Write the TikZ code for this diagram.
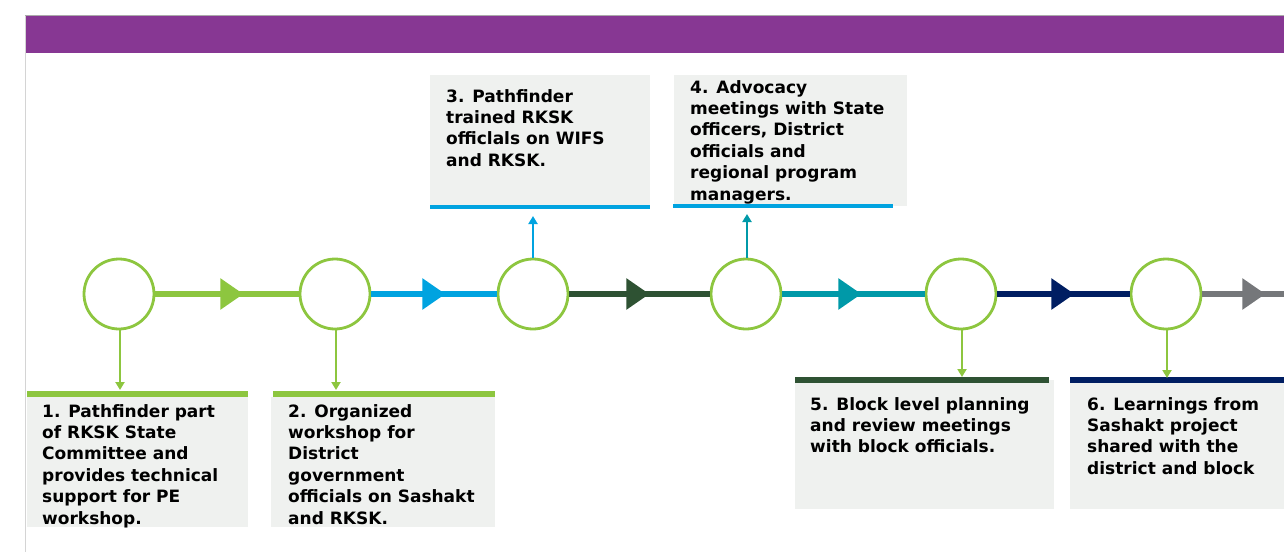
\documentclass[tikz,border=0pt]{standalone}
\usepackage{fontspec}
\setmainfont{DejaVu Sans}
\usetikzlibrary{arrows.meta,decorations.markings}

\definecolor{hdrpurple}{HTML}{873793}
\definecolor{lime}{HTML}{8DC63F}
\definecolor{skyblue}{HTML}{00A3E0}
\definecolor{forest}{HTML}{2E5233}
\definecolor{teal}{HTML}{0099A8}
\definecolor{navy}{HTML}{001E62}
\definecolor{slate}{HTML}{75777A}
\definecolor{boxfill}{HTML}{EFF1EF}
\definecolor{rulegrey}{HTML}{D4D4D4}

\tikzset{
  milestone/.style={circle, draw=lime, line width=2.8pt, fill=white,
    minimum size=70pt, inner sep=0pt},
  card/.style={fill=boxfill, draw=none},
  cardtext/.style={anchor=north west, inner sep=0pt, align=left,
    font=\fontsize{17}{21.4}\selectfont\bfseries},
  link/.style={line width=5.5pt},
  headtip/.style 2 args={postaction={decorate}, decoration={markings,
    mark=at position #1 with {\arrow{Triangle[length=23pt,width=30pt,color=#2]}}}},
  pointer/.style={line width=2pt, -{Triangle[length=8pt,width=9pt]}}
}

\begin{document}
\begin{tikzpicture}[x=1pt,y=-1pt]
\useasboundingbox (0,0) rectangle (1284,552);

% frame and title bar
\draw[rulegrey, line width=1.5pt] (25.5,15) -- (25.5,552);
\draw[rulegrey!80!black, line width=1pt] (25,15.5) -- (1284,15.5);
\fill[hdrpurple] (26,16) rectangle (1284,53);

% cards with their coloured rules
\fill[card] (27,397) rectangle (248,527);
\fill[lime] (27,391) rectangle (248,397);
\fill[card] (271,397) rectangle (495,527);
\fill[lime] (273,391) rectangle (495,397);
\fill[card] (430,75) rectangle (650,205);
\fill[skyblue] (430,205) rectangle (650,209);
\fill[card] (674,75) rectangle (907,206);
\fill[card] (795,380) rectangle (1054,509);
\fill[forest] (795,377) rectangle (1049,383);
\fill[card] (1070,380) rectangle (1284,509);
\fill[navy] (1070,377) rectangle (1284,383);

% card texts
\node[cardtext] (t1) at (42,404) {1. Pathfinder part\\of RKSK State\\Committee and\\provides technical\\support for PE\\workshop.};
\node[cardtext] (t2) at (288,404) {2. Organized\\workshop for\\District\\government\\officials on Sashakt\\and RKSK.};
\node[cardtext] (t3) at (446,89) {3. Pathfinder\\trained RKSK\\officlals on WIFS\\and RKSK.};
\node[cardtext] (t4) at (690,80) {4. Advocacy\\meetings with State\\officers, District\\officials and\\regional program\\managers.};
\node[cardtext] (t5) at (810,397) {5. Block level planning\\and review meetings\\with block officials.};
\node[cardtext] (t6) at (1087,397) {6. Learnings from\\Sashakt project\\shared with the\\district and block};

% rule of card 4 runs over its last line
\fill[skyblue] (673,204) rectangle (893,208);

% milestones
\node[milestone] (m1) at (119,294) {};
\node[milestone] (m2) at (335,294) {};
\node[milestone] (m3) at (533,294) {};
\node[milestone] (m4) at (746,294) {};
\node[milestone] (m5) at (961,294) {};
\node[milestone] (m6) at (1166,294) {};
\coordinate (tail) at (1284,294);

% timeline links
\draw[link, lime, headtip={88pt}{lime}] (m1) -- (m2);
\draw[link, skyblue, headtip={74pt}{skyblue}] (m2) -- (m3);
\draw[link, forest, headtip={80pt}{forest}] (m3) -- (m4);
\draw[link, teal, headtip={79pt}{teal}] (m4) -- (m5);
\draw[link, navy, headtip={77pt}{navy}] (m5) -- (m6);
\draw[link, slate, headtip={63pt}{slate}] (m6) -- (tail);

% pointers from milestones to cards
\coordinate (p1) at (120,390);
\coordinate (p2) at (336,390);
\coordinate (p3) at (533,216);
\coordinate (p4) at (747,214);
\coordinate (p5) at (962,377);
\coordinate (p6) at (1167,378);
\draw[pointer, lime] (m1.south -| p1) -- (p1);
\draw[pointer, lime] (m2.south -| p2) -- (p2);
\draw[pointer, skyblue] (m3.north -| p3) -- (p3);
\draw[pointer, teal] (m4.north -| p4) -- (p4);
\draw[pointer, lime] (m5.south -| p5) -- (p5);
\draw[pointer, lime] (m6.south -| p6) -- (p6);
\end{tikzpicture}
\end{document}
